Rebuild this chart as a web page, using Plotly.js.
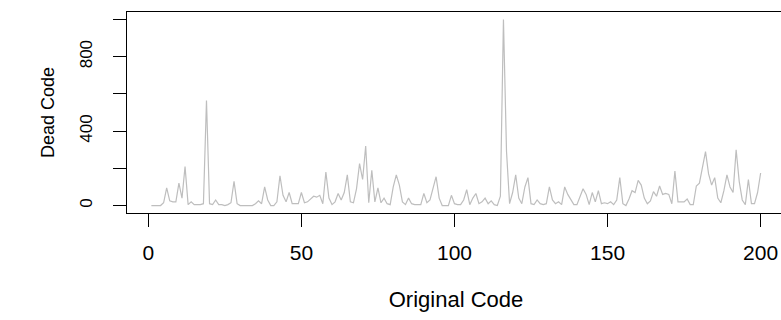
<!DOCTYPE html>
<html>
<head>
<meta charset="utf-8">
<script src="https://cdn.plot.ly/plotly-3.0.1.min.js"></script>
<style>
html, body { margin: 0; padding: 0; overflow: hidden; background: #ffffff; }
#chart { width: 790px; height: 320px; }
</style>
</head>
<body>
<div id="chart"></div>
<script>
// Original Code index 1..200
var originalCode = [];
for (var i = 1; i <= 200; i++) { originalCode.push(i); }

// Dead Code values
var deadCode = [
  0, 0, 0, 0, 15, 95, 25, 20, 20, 120,
  40, 210, 5, 20, 5, 5, 5, 10, 565, 10,
  5, 30, 5, 5, 0, 5, 15, 130, 10, 0,
  0, 0, 0, 0, 10, 25, 10, 100, 30, 0,
  0, 20, 160, 55, 20, 70, 10, 10, 10, 70,
  15, 20, 35, 50, 45, 55, 10, 180, 40, 5,
  20, 65, 30, 70, 165, 20, 15, 90, 225, 140,
  320, 15, 190, 20, 95, 15, 40, 10, 5, 100,
  165, 110, 20, 5, 40, 10, 5, 5, 5, 65,
  15, 30, 100, 155, 40, 0, 0, 0, 55, 10,
  5, 5, 30, 85, 5, 40, 65, 10, 20, 40,
  10, 25, 5, 0, 50, 1000, 290, 10, 70, 165,
  40, 10, 100, 150, 10, 5, 30, 10, 5, 10,
  100, 30, 10, 20, 5, 100, 60, 30, 5, 5,
  50, 90, 60, 5, 70, 20, 80, 10, 15, 10,
  20, 5, 30, 150, 10, 0, 35, 80, 70, 135,
  110, 40, 10, 25, 75, 50, 105, 60, 65, 60,
  10, 185, 20, 20, 20, 35, 5, 5, 105, 120,
  200, 290, 170, 110, 150, 40, 15, 80, 165, 100,
  70, 300, 130, 30, 5, 140, 10, 10, 70, 175
];

var xTickVals = [0, 50, 100, 150, 200];
var xTickText = ['0', '50', '100', '150', '200'];
var yTickVals = [0, 200, 400, 600, 800, 1000];
var yTickText = ['0', '', '400', '', '800', ''];

var trace = {
  x: originalCode,
  y: deadCode,
  type: 'scatter',
  mode: 'lines',
  line: { color: '#bebebe', width: 1.2 },
  hoverinfo: 'skip'
};

var fontFamily = 'Liberation Sans, Arial, sans-serif';

var layout = {
  width: 790,
  height: 320,
  margin: { l: 127, r: 5, t: 12, b: 107, pad: 0 },
  paper_bgcolor: '#ffffff',
  plot_bgcolor: '#ffffff',
  showlegend: false,
  font: { family: fontFamily, color: '#000000' },
  xaxis: {
    range: [-6.96, 207.96],
    tickmode: 'array',
    tickvals: xTickVals,
    ticktext: xTickText,
    ticks: 'outside',
    ticklen: 13,
    tickwidth: 1,
    tickcolor: '#000000',
    ticklabelstandoff: 8,
    tickfont: { family: fontFamily, size: 21, color: '#000000' },
    showgrid: false,
    zeroline: false,
    showline: true,
    linecolor: '#000000',
    linewidth: 1,
    mirror: true,
    title: { text: 'Original Code', font: { family: fontFamily, size: 22, color: '#000000' }, standoff: 28 },
    automargin: false
  },
  yaxis: {
    range: [-40, 1040],
    tickmode: 'array',
    tickvals: yTickVals,
    ticktext: yTickText,
    tickangle: -90,
    ticks: 'outside',
    ticklen: 13,
    tickwidth: 1,
    tickcolor: '#000000',
    ticklabelstandoff: 14,
    tickfont: { family: fontFamily, size: 17, color: '#000000' },
    showgrid: false,
    zeroline: false,
    showline: true,
    linecolor: '#000000',
    linewidth: 1,
    mirror: true,
    title: { text: 'Dead Code', font: { family: fontFamily, size: 18, color: '#000000' }, standoff: 17 },
    automargin: false
  }
};

Plotly.newPlot('chart', [trace], layout, { displayModeBar: false, staticPlot: true });
</script>
</body>
</html>
